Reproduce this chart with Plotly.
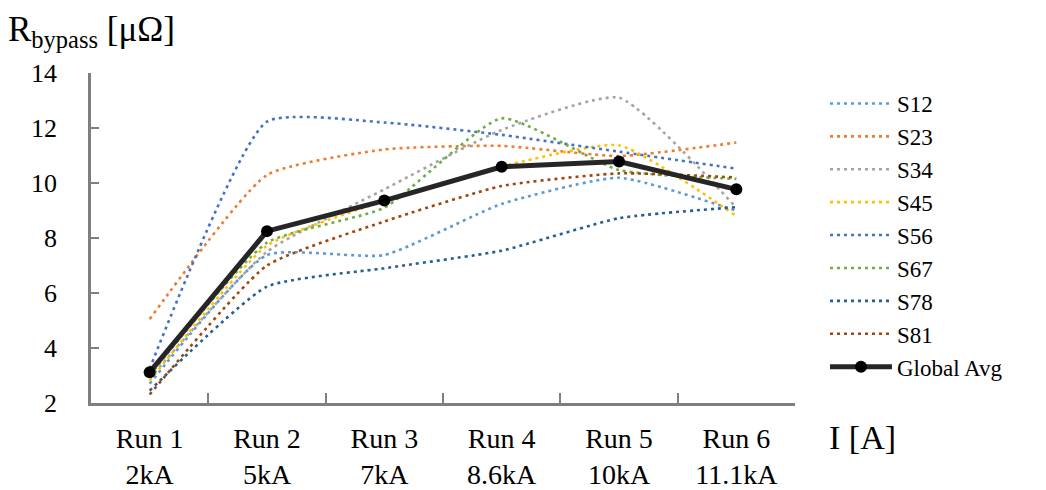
import plotly.graph_objects as go

categories = ["Run 1<br>2kA", "Run 2<br>5kA", "Run 3<br>7kA", "Run 4<br>8.6kA", "Run 5<br>10kA", "Run 6<br>11.1kA"]

S12 = [2.70, 7.38, 7.38, 9.24, 10.19, 8.99]
S23 = [5.05, 10.29, 11.22, 11.35, 10.98, 11.47]
S34 = [2.90, 7.50, 9.77, 11.93, 13.10, 9.10]
S45 = [2.81, 7.72, 9.35, 10.60, 11.37, 8.80]
S56 = [3.25, 12.23, 12.20, 11.75, 11.14, 10.52]
S67 = [3.00, 7.83, 9.10, 12.35, 10.47, 10.15]
S78 = [2.45, 6.23, 6.90, 7.54, 8.72, 9.12]
S81 = [2.31, 7.00, 8.60, 9.89, 10.35, 10.20]
global_avg = [3.12, 8.25, 9.36, 10.59, 10.78, 9.77]

series_names = ["S12", "S23", "S34", "S45", "S56", "S67", "S78", "S81"]
series_values = [S12, S23, S34, S45, S56, S67, S78, S81]
series_colors = ["#5B9BD5", "#ED7D31", "#A5A5A5", "#FFC000", "#4472C4", "#70AD47", "#255E91", "#9E480E"]

FONT = "Liberation Serif"

fig = go.Figure()
for name, vals, col in zip(series_names, series_values, series_colors):
    fig.add_trace(go.Scatter(
        x=categories, y=vals, name=name, mode="lines",
        line=dict(color=col, width=2.6, dash="3px,4px", shape="spline", smoothing=0.5),
    ))
fig.add_trace(go.Scatter(
    x=categories, y=global_avg, name="Global Avg", mode="lines+markers",
    line=dict(color="#262626", width=5),
    marker=dict(color="black", size=12),
))

# page has an 8px body margin, so the figure is 8px smaller and shifted
FW, FH = 1038, 482
L, R, T, B = 83, 251, 65, 87
W = FW - L - R
H = FH - T - B

fig.update_layout(
    width=FW, height=FH,
    margin=dict(l=L, r=R, t=T, b=B, pad=0, autoexpand=False),
    paper_bgcolor="white", plot_bgcolor="white",
    font=dict(family=FONT, color="black", size=26),
    showlegend=True,
    legend=dict(
        xref="container", yref="container",
        x=817 / FW, y=1 - 74 / FH, xanchor="left", yanchor="top",
        font=dict(family=FONT, size=23, color="black"),
        bgcolor="rgba(0,0,0,0)", borderwidth=0, itemwidth=62,
        tracegroupgap=0, maxheight=1,
    ),
    xaxis=dict(
        type="category", range=[-0.5, 5.5],
        showline=True, linecolor="#7F7F7F", linewidth=3,
        ticks="inside", tickson="boundaries", ticklen=10, tickwidth=2, tickcolor="#7F7F7F",
        showgrid=False, zeroline=False,
        tickfont=dict(family=FONT, size=28, color="black"),
        ticklabelstandoff=8,
    ),
    yaxis=dict(
        range=[2, 14], dtick=2, tick0=2,
        showline=True, linecolor="#7F7F7F", linewidth=2.5,
        ticks="inside", ticklen=8, tickwidth=2, tickcolor="#7F7F7F",
        showgrid=False, zeroline=False,
        tickfont=dict(family=FONT, size=26, color="black"),
        ticklabelstandoff=26,
    ),
)

fig.add_annotation(
    text="R<sub>bypass</sub> [μΩ]", xref="paper", yref="paper",
    x=(-2 - L) / W, y=1 + T / H, xanchor="left", yanchor="top",
    showarrow=False, font=dict(family=FONT, size=35, color="black"),
)
fig.add_annotation(
    text="I [A]", xref="paper", yref="paper",
    x=(819 - L) / W, y=-34 / H, xanchor="left", yanchor="middle",
    showarrow=False, font=dict(family=FONT, size=34, color="black"),
)

fig.write_html("out.html")
